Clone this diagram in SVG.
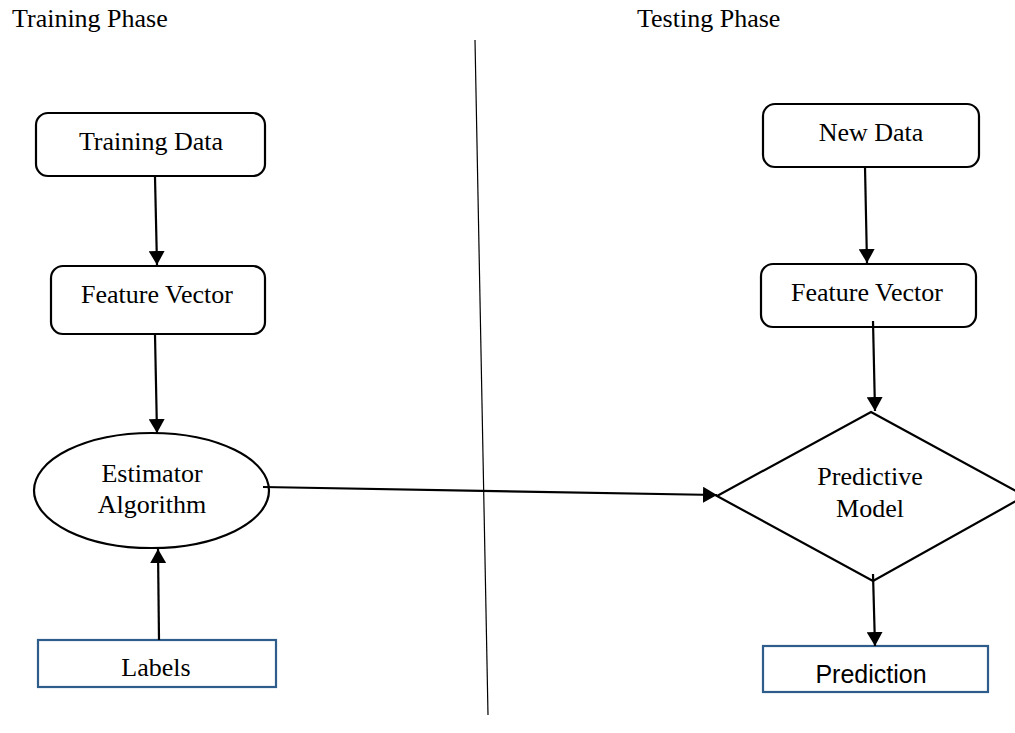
<svg xmlns="http://www.w3.org/2000/svg" width="1015" height="733" viewBox="0 0 1015 733">
<style>
.t{font-family:"Liberation Serif","Times New Roman",serif;font-size:26px;fill:#000;text-anchor:middle}
.s{font-family:"Liberation Sans",Arial,sans-serif;font-size:25px;fill:#000;text-anchor:middle}
.box{fill:#fff;stroke:#000;stroke-width:2.2}
.bl{fill:#fff;stroke:#2E5D8C;stroke-width:2.2}
.c{stroke:#000;stroke-width:2.2;fill:none;marker-end:url(#ah)}
</style>
<defs>
<marker id="ah" viewBox="0 0 14 16" refX="14" refY="8" markerWidth="14" markerHeight="16" markerUnits="userSpaceOnUse" orient="auto">
<path d="M0,0 L14,8 L0,16 Z" fill="#000"/>
</marker>
</defs>
<rect width="1015" height="733" fill="#fff"/>
<text class="t" x="12" y="27" style="text-anchor:start">Training Phase</text>
<text class="t" x="637" y="27" style="text-anchor:start">Testing Phase</text>
<line x1="475" y1="40" x2="488" y2="715" stroke="#000" stroke-width="1.2"/>
<g id="training-data"><rect class="box" x="36" y="113" width="229" height="63" rx="12"/><text class="t" x="151" y="150">Training Data</text></g>
<g id="feature-vector-1"><rect class="box" x="51" y="266" width="214" height="68" rx="12"/><text class="t" x="157" y="303">Feature Vector</text></g>
<g id="estimator"><ellipse class="box" cx="151.5" cy="490.5" rx="117.5" ry="57.5"/><text class="t" x="152" y="482">Estimator</text><text class="t" x="152" y="513">Algorithm</text></g>
<g id="labels"><rect class="bl" x="38" y="640" width="238" height="47"/><text class="t" x="156" y="676">Labels</text></g>
<g id="new-data"><rect class="box" x="763" y="104" width="216" height="63" rx="12"/><text class="t" x="871" y="141">New Data</text></g>
<g id="feature-vector-2"><rect class="box" x="761" y="264" width="215" height="63" rx="12"/><text class="t" x="867" y="301">Feature Vector</text></g>
<g id="predictive-model"><polygon class="box" points="871,412 1025,496 873,581 717,496"/><text class="t" x="870" y="485">Predictive</text><text class="t" x="870" y="517">Model</text></g>
<g id="prediction"><rect class="bl" x="763" y="646" width="225" height="46"/><text class="s" x="871" y="683">Prediction</text></g>
<g id="connectors">
<line class="c" x1="155" y1="177" x2="157" y2="265"/>
<line class="c" x1="155" y1="335" x2="157" y2="433"/>
<line class="c" x1="159" y1="640" x2="158" y2="549"/>
<line class="c" x1="263" y1="487" x2="717" y2="495"/>
<line class="c" x1="865" y1="167" x2="867" y2="263"/>
<line class="c" x1="873" y1="321" x2="875" y2="411"/>
<line class="c" x1="873" y1="574" x2="875" y2="646"/>
</g>
</svg>
